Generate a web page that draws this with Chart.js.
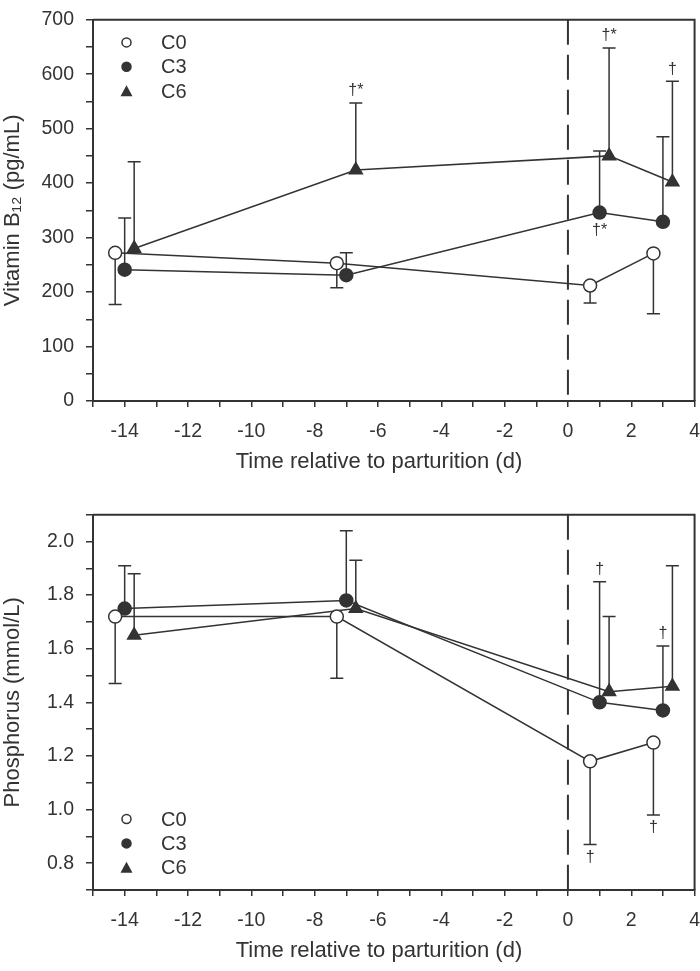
<!DOCTYPE html>
<html>
<head>
<meta charset="utf-8">
<script src="https://cdn.jsdelivr.net/npm/chart.js@4.4.0/dist/chart.umd.min.js"></script>
<style>
  body { margin: 0; background: #fff; overflow: hidden; }
  .box { position: absolute; left: 0; width: 700px; overflow: hidden; }
</style>
</head>
<body>
<div class="box" style="top:-4px;height:479px"><canvas id="graph" width="713" height="479"></canvas></div>
<div class="box" style="top:491px;height:473px"><canvas id="graph2" width="713" height="473"></canvas></div>
<script>
// days relative to parturition (groups are offset a little so the bars don't overlap)
const daysC0 = [-14.3, -7.3, 0.7, 2.7];
const daysC3 = [-14, -7, 1, 3];
const daysC6 = [-13.7, -6.7, 1.3, 3.3];

// vitamin B12 (pg/mL), mean and end of the error bar
const b12C0 = [272, 253, 212, 271];
const b12C0Err = [177, 208, 180, 160];
const b12C3 = [241, 231, 346, 329];
const b12C3Err = [336, 272, 459, 485];
const b12C6 = [280, 424, 450, 402];
const b12C6Err = [439, 547, 648, 587];

// phosphorus (mmol/L)
const pC0 = [1.72, 1.72, 1.18, 1.25];
const pC0Err = [1.47, 1.49, 0.87, 0.98];
const pC3 = [1.75, 1.78, 1.40, 1.37];
const pC3Err = [1.91, 2.04, 1.85, 1.61];
const pC6 = [1.65, 1.75, 1.44, 1.46];
const pC6Err = [1.88, 1.93, 1.72, 1.91];

// significance marks: [group, point index, text, where]
const b12Marks = [[2, 1, '†*', 'end'], [2, 2, '†*', 'end'], [2, 3, '†', 'end'], [1, 2, '†*', 'below']];
const pMarks = [[0, 2, '†', 'end'], [0, 3, '†', 'end'], [1, 2, '†', 'end'], [1, 3, '†', 'end']];

const groups = ['C0', 'C3', 'C6'];
const xTicks = [-14, -12, -10, -8, -6, -4, -2, 0, 2, 4];
const xTitle = 'Time relative to parturition (d)';

const ink = '#333';
const font = "'Liberation Sans', Arial, sans-serif";

function dataset(label, days, vals, err, style) {
    return {
        label: label,
        data: days.map((d, i) => ({ x: d, y: vals[i] })),
        err: err,
        showLine: true,
        borderColor: ink,
        borderWidth: 1.5,
        pointStyle: style == 'open' ? 'circle' : style,
        pointRadius: style == 'triangle' ? 7.5 : 6.5,
        pointHoverRadius: 6.5,
        pointBackgroundColor: style == 'open' ? '#fff' : ink,
        pointBorderColor: ink,
        pointBorderWidth: 1.5
    };
}

const extras = {
    id: 'extras',
    beforeDatasetsDraw(chart) {
        const ctx = chart.ctx;
        const a = chart.chartArea;
        const xs = chart.scales.x, ys = chart.scales.y;
        ctx.save();
        // parturition line
        ctx.strokeStyle = ink;
        ctx.lineWidth = 2;
        ctx.setLineDash([25, 10]);
        ctx.beginPath();
        let x0 = xs.getPixelForValue(0);
        ctx.moveTo(x0, a.top);
        ctx.lineTo(x0, a.bottom);
        ctx.stroke();
        ctx.setLineDash([]);
        // error bars
        ctx.lineWidth = 1.5;
        chart.data.datasets.forEach(ds => {
            ds.data.forEach((p, i) => {
                let px = xs.getPixelForValue(p.x);
                let py = ys.getPixelForValue(p.y);
                let pe = ys.getPixelForValue(ds.err[i]);
                ctx.beginPath();
                ctx.moveTo(px, py);
                ctx.lineTo(px, pe);
                ctx.moveTo(px - 6.5, pe);
                ctx.lineTo(px + 6.5, pe);
                ctx.stroke();
            });
        });
        ctx.restore();
    },
    afterDraw(chart, args, opts) {
        const ctx = chart.ctx;
        const a = chart.chartArea;
        const xs = chart.scales.x, ys = chart.scales.y;
        ctx.save();
        // top and right frame
        ctx.strokeStyle = ink;
        ctx.lineWidth = 2;
        ctx.beginPath();
        ctx.moveTo(a.left, a.top);
        ctx.lineTo(a.right, a.top);
        ctx.lineTo(a.right, a.bottom);
        ctx.stroke();

        // x title (sits a bit left of the plot centre in the original)
        ctx.fillStyle = ink;
        ctx.font = '22px ' + font;
        ctx.textAlign = 'center';
        ctx.textBaseline = 'middle';
        ctx.fillText(xTitle, 379, a.bottom + 61);

        // marks
        ctx.font = '16px ' + font;
        opts.marks.forEach(m => {
            const ds = chart.data.datasets[m[0]];
            const p = ds.data[m[1]];
            const e = ds.err[m[1]];
            let px = xs.getPixelForValue(p.x);
            let y;
            if (m[3] == 'below') {
                y = ys.getPixelForValue(p.y) + 18;
            } else {
                let pe = ys.getPixelForValue(e);
                y = e > p.y ? pe - 12 : pe + 13;
            }
            ctx.fillText(m[2], px, y);
        });

        // legend
        let y = opts.legendTop ? a.top + 22.7 : a.bottom - 71;
        ctx.font = '20px ' + font;
        ctx.textAlign = 'left';
        chart.data.datasets.forEach(ds => {
            let lx = 126.5;
            ctx.beginPath();
            if (ds.pointStyle == 'triangle') {
                ctx.moveTo(lx, y - 6);
                ctx.lineTo(lx + 6, y + 5);
                ctx.lineTo(lx - 6, y + 5);
                ctx.closePath();
                ctx.fillStyle = ink;
                ctx.fill();
            } else {
                ctx.arc(lx, y, 4.5, 0, Math.PI * 2);
                ctx.fillStyle = ds.pointBackgroundColor;
                ctx.fill();
                ctx.lineWidth = 1.5;
                ctx.stroke();
            }
            ctx.fillStyle = ink;
            ctx.fillText(ds.label, 161, y + 1);
            y += 24.4;
        });
        ctx.restore();
    }
};

function makeChart(canvas, sets, yOpts, yTitle, marks, legendTop) {
    return new Chart(canvas, {
        type: 'scatter',
        data: { datasets: sets },
        options: {
            responsive: false,
            animation: false,
            events: [],
            layout: { padding: 0 },
            plugins: {
                legend: { display: false },
                tooltip: { enabled: false },
                extras: { marks: marks, legendTop: legendTop }
            },
            scales: {
                x: {
                    type: 'linear',
                    min: -15,
                    max: 4,
                    afterFit: s => { s.height = 74; },
                    ticks: {
                        stepSize: 1,
                        autoSkip: false,
                        maxRotation: 0,
                        padding: 13,
                        color: ink,
                        font: { family: font, size: 19.5 },
                        callback: v => xTicks.includes(v) ? String(v) : ''
                    },
                    grid: { drawOnChartArea: false, drawTicks: true, tickLength: 6, color: ink, lineWidth: 1.5 },
                    border: { display: true, color: ink, width: 2 }
                },
                y: Object.assign({
                    afterFit: s => { s.width = 93; },
                    grid: { drawOnChartArea: false, drawTicks: true, tickLength: 7, color: ink, lineWidth: 1.5 },
                    border: { display: true, color: ink, width: 2 },
                    title: {
                        display: true,
                        text: yTitle,
                        color: ink,
                        padding: 0,
                        font: { family: font, size: 22 }
                    }
                }, yOpts)
            }
        },
        plugins: [extras]
    });
}

const graph = document.getElementById('graph');
makeChart(graph, [
    dataset(groups[0], daysC0, b12C0, b12C0Err, 'open'),
    dataset(groups[1], daysC3, b12C3, b12C3Err, 'circle'),
    dataset(groups[2], daysC6, b12C6, b12C6Err, 'triangle')
], {
    min: 0,
    max: 700,
    ticks: {
        stepSize: 50,
        autoSkip: false,
        padding: 12,
        color: ink,
        font: { family: font, size: 19.5 },
        callback: v => v % 100 == 0 ? String(v) : ''
    }
}, 'Vitamin B₁₂ (pg/mL)', b12Marks, true);

const graph2 = document.getElementById('graph2');
makeChart(graph2, [
    dataset(groups[0], daysC0, pC0, pC0Err, 'open'),
    dataset(groups[1], daysC3, pC3, pC3Err, 'circle'),
    dataset(groups[2], daysC6, pC6, pC6Err, 'triangle')
], {
    min: 0.7,
    max: 2.1,
    ticks: {
        stepSize: 0.1,
        autoSkip: false,
        padding: 12,
        color: ink,
        font: { family: font, size: 19.5 },
        callback: v => Math.round(v * 10) % 2 == 0 ? v.toFixed(1) : ''
    }
}, 'Phosphorus (mmol/L)', pMarks, false);
</script>
</body>
</html>
